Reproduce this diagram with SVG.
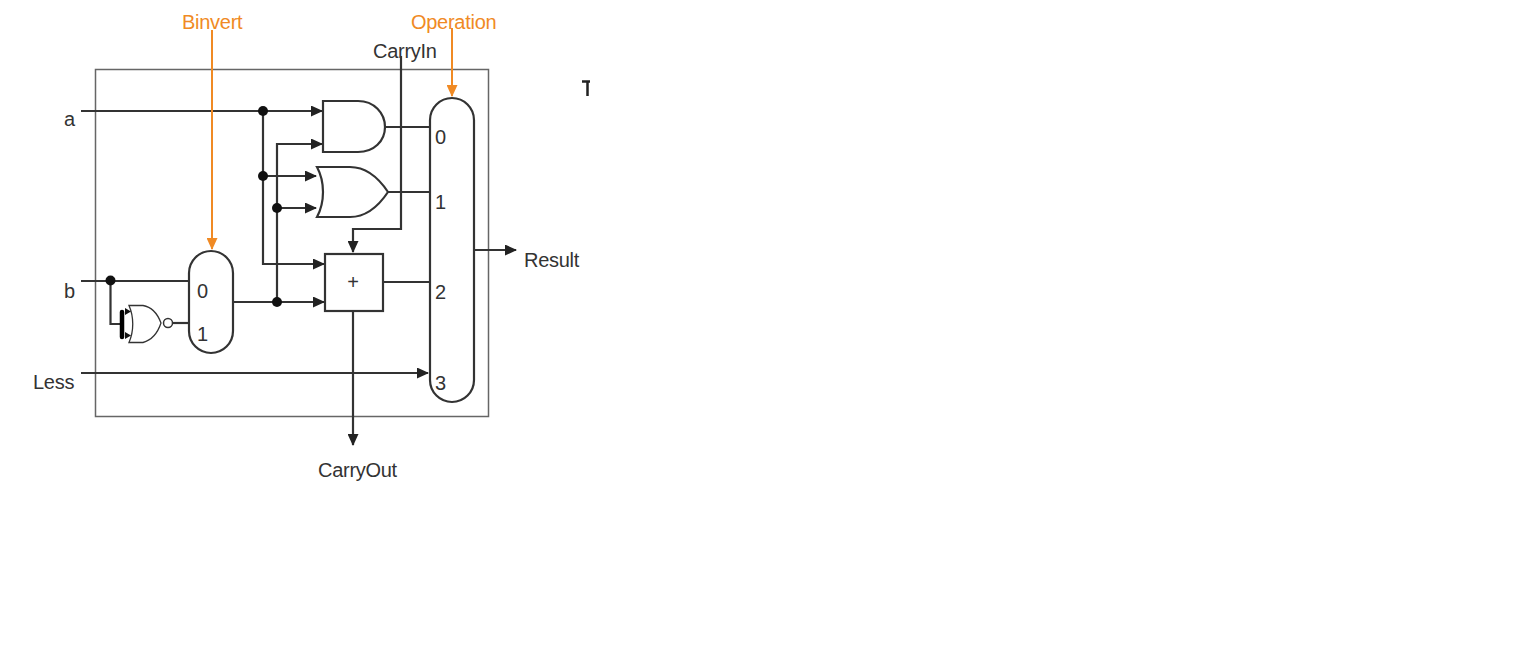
<svg xmlns="http://www.w3.org/2000/svg" width="1534" height="671" viewBox="0 0 1534 671">
<style>
text{font-family:"Liberation Sans",Arial,sans-serif;font-size:20px;fill:#333;letter-spacing:-.28px}
.o{fill:#f08a24}
.s{fill:#fff;stroke:#333;stroke-width:2.2}
.w{fill:none;stroke:#333;stroke-width:2.2}
.or{fill:none;stroke:#f08a24;stroke-width:2}
.d{fill:#111}
</style>
<defs>
<marker id="a" markerUnits="userSpaceOnUse" markerWidth="12" markerHeight="11" refX="11" refY="5.500" orient="auto"><path d="M0 0L12 5.500L0 11Z" fill="#222"/></marker>
<marker id="ao" markerUnits="userSpaceOnUse" markerWidth="12" markerHeight="11" refX="11" refY="5.500" orient="auto"><path d="M0 0L12 5.500L0 11Z" fill="#f08a24"/></marker>
</defs>
<rect width="1534" height="671" fill="#fff"/>
<rect id="frame" x="95.500" y="69.500" width="393" height="347" fill="none" stroke="#666" stroke-width="1.500"/>
<g id="connectors">
<path class="w" d="M81 111H322" marker-end="url(#a)"/>
<path class="w" d="M263 111V264H324" marker-end="url(#a)"/>
<path class="w" d="M263 176H316" marker-end="url(#a)"/>
<path class="w" d="M277 302V144H322" marker-end="url(#a)"/>
<path class="w" d="M277 208H316" marker-end="url(#a)"/>
<path class="w" d="M233 302H324" marker-end="url(#a)"/>
<path class="w" d="M81 281H189"/>
<path class="w" d="M110.500 281V324H124"/>
<path class="w" d="M173 323H189"/>
<path class="w" d="M385 127H430"/>
<path class="w" d="M388 192H430"/>
<path class="w" d="M383 282H430"/>
<path class="w" d="M401 56V229H353V252" marker-end="url(#a)"/>
<path class="w" d="M353 312V445" marker-end="url(#a)"/>
<path class="w" d="M81 373H428" marker-end="url(#a)"/>
<path class="w" d="M474 250H516" marker-end="url(#a)"/>
<path class="or" d="M212 30V249" marker-end="url(#ao)"/>
<path class="or" d="M452 28V96" marker-end="url(#ao)"/>
<circle class="d" cx="263" cy="111" r="5"/>
<circle class="d" cx="263" cy="176" r="5"/>
<circle class="d" cx="277" cy="208" r="5"/>
<circle class="d" cx="277" cy="302" r="5"/>
<circle class="d" cx="110.500" cy="280.500" r="5"/>
</g>
<g id="and-gate"><path class="s" d="M323 101H358C374 101 385 113 385 127C385 141 374 152 358 152H323Z"/></g>
<g id="or-gate"><path class="s" d="M317 167H350C368 167 380 180 388 192C380 204 368 217 350 217H317C325 202 325 182 317 167Z"/></g>
<g id="adder"><rect class="s" x="325" y="254" width="58" height="57"/><text x="353" y="289" text-anchor="middle">+</text></g>
<g id="mux-binvert"><rect class="s" x="189" y="251" width="44" height="102" rx="22"/><text x="197" y="298">0</text><text x="197" y="341">1</text></g>
<g id="mux-result"><rect class="s" x="430" y="98" width="44" height="304" rx="22"/><text x="435" y="144">0</text><text x="435" y="209">1</text><text x="435" y="299">2</text><text x="435" y="390">3</text></g>
<g id="not-gate">
<path d="M129 305.500H143C152 307 158 315 161 323C158 332 152 340 143 342.500H129C134 331 134 317 129 305.500Z" fill="#fff" stroke="#333" stroke-width="1.300"/>
<circle cx="168" cy="323" r="4.500" fill="#fff" stroke="#333" stroke-width="1.500"/>
<path d="M122 312V337" stroke="#000" stroke-width="4.500" stroke-linecap="round"/>
<path d="M125 308L131 311.500L125 315ZM125 332L131 335.500L125 339Z" fill="#111"/>
</g>
<g id="labels">
<text class="o" x="182" y="29">Binvert</text>
<text class="o" x="411" y="29">Operation</text>
<text x="373" y="58">CarryIn</text>
<text x="64" y="126">a</text>
<text x="64" y="298">b</text>
<text x="33" y="389">Less</text>
<text x="524" y="267">Result</text>
<text x="318" y="477">CarryOut</text>
</g>
<path id="stray-mark" d="M582 81.500H590M587.500 81V96" fill="none" stroke="#222" stroke-width="2.500"/>
</svg>
